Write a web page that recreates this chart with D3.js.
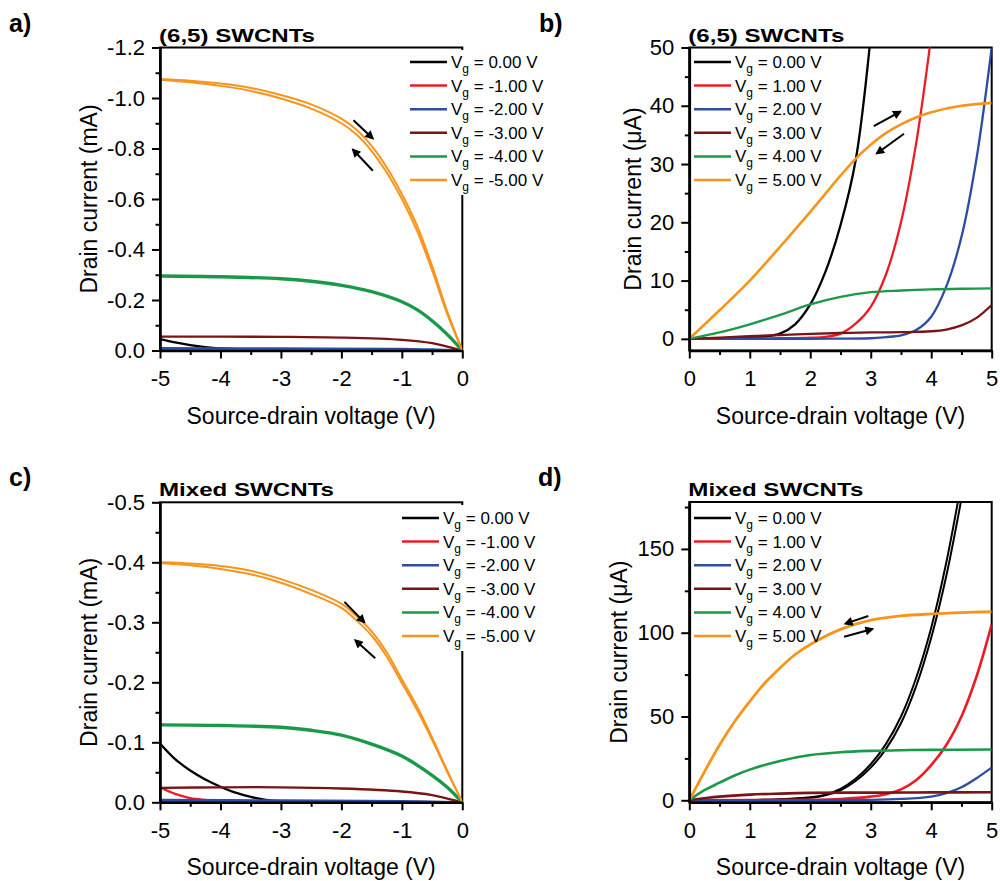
<!DOCTYPE html>
<html>
<head>
<meta charset="utf-8">
<script src="https://cdn.jsdelivr.net/npm/d3@7"></script>
<style>
  body { margin: 0; background: #fff; }
  text { font-family: Arial, "Liberation Sans", sans-serif; }
</style>
</head>
<body>
<svg id="chart" width="1000" height="881"></svg>
<script>
// ---- data ----
const colors = ["#000000", "#ec1c24", "#2e4da0", "#7b1416", "#1a9a48", "#f7941d"];
const gatesNeg = ["0.00", "-1.00", "-2.00", "-3.00", "-4.00", "-5.00"];
const gatesPos = ["0.00", "1.00", "2.00", "3.00", "4.00", "5.00"];

// a) (6,5) SWCNTs, negative bias, mA
const aBlack = [[-5,-0.045],[-4.75,-0.032],[-4.5,-0.021],[-4.25,-0.013],[-4,-0.008],[-3.5,-0.004],[-3,-0.002],[-2,-0.001],[0,0]];
const aRed = [[-5,-0.004],[-3,-0.003],[-1,-0.002],[0,0]];
const aBlue = [[-5,-0.009],[-3,-0.008],[-1,-0.006],[-0.5,-0.004],[0,0]];
const aBrown = [[-5,-0.055],[-4,-0.055],[-3,-0.054],[-2,-0.051],[-1,-0.042],[-0.5,-0.029],[-0.2,-0.012],[0,0]];
const aGreen = [[-5,-0.295],[-4,-0.292],[-3,-0.284],[-2.5,-0.274],[-2,-0.258],[-1.5,-0.233],[-1,-0.193],[-0.75,-0.162],[-0.5,-0.118],[-0.25,-0.064],[0,0]];
const aOrangeUp = [[-5,-1.075],[-4.5,-1.068],[-4,-1.057],[-3.5,-1.04],[-3,-1.012],[-2.5,-0.975],[-2,-0.918],[-1.75,-0.874],[-1.5,-0.81],[-1.25,-0.725],[-1,-0.62],[-0.75,-0.495],[-0.5,-0.335],[-0.25,-0.155],[0,0]];
const aOrangeDown = [[-5,-1.072],[-4.5,-1.062],[-4,-1.048],[-3.5,-1.028],[-3,-0.998],[-2.5,-0.958],[-2,-0.9],[-1.75,-0.855],[-1.5,-0.79],[-1.25,-0.705],[-1,-0.6],[-0.75,-0.475],[-0.5,-0.318],[-0.25,-0.145],[0,0]];
const aArrows = [[[-1.8,-0.912],[-1.48,-0.84]], [[-1.48,-0.712],[-1.81,-0.796]]];

// b) (6,5) SWCNTs, positive bias, uA
const bBlack = [[0,0],[0.5,0.05],[1,0.2],[1.25,0.4],[1.5,0.9],[1.75,2.5],[2,5.9],[2.25,11.5],[2.5,19.5],[2.75,30.6],[3,52]];
const bRed = [[0,0],[1,0.05],[1.5,0.1],[2,0.2],[2.25,0.35],[2.5,0.9],[2.75,2.6],[3,5.5],[3.25,11],[3.5,20],[3.75,33.5],[4,52]];
const bBlue = [[0,0],[2,0.02],[3,0.1],[3.25,0.3],[3.5,0.6],[3.75,1.5],[4,3.8],[4.25,9],[4.5,17.5],[4.75,31],[5,50]];
const bBrown = [[0,0],[0.5,0.2],[1,0.45],[1.5,0.65],[2,0.85],[2.5,1.0],[3,1.1],[3.5,1.15],[4,1.3],[4.25,1.6],[4.5,2.3],[4.75,3.6],[5,5.8]];
const bGreen = [[0,0],[0.5,1.1],[1,2.5],[1.5,4.1],[2,5.9],[2.5,7.2],[3,8.0],[3.5,8.3],[4,8.5],[4.5,8.6],[5,8.65]];
const bOrange = [[0,0],[0.5,4.9],[1,10],[1.5,15.8],[2,21.8],[2.5,28],[2.75,30.9],[3,33.3],[3.25,35.3],[3.5,36.8],[3.75,38.0],[4,38.9],[4.5,40.0],[5,40.5]];
const bArrows = [[[3.05,36.5],[3.49,39.0]], [[3.55,35.2],[3.1,31.8]]];

// c) Mixed SWCNTs, negative bias, mA
const cBlack = [[-5,-0.098],[-4.75,-0.072],[-4.5,-0.053],[-4.25,-0.038],[-4,-0.026],[-3.75,-0.016],[-3.5,-0.009],[-3.25,-0.004],[-3,-0.002],[-2,-0.0005],[0,0]];
const cRed = [[-5,-0.025],[-4.75,-0.014],[-4.5,-0.007],[-4.25,-0.004],[-4,-0.002],[-3,-0.001],[0,0]];
const cBlue = [[-5,-0.004],[-3,-0.003],[-1,-0.002],[0,0]];
const cBrown = [[-5,-0.024],[-4,-0.025],[-3,-0.025],[-2,-0.023],[-1,-0.018],[-0.5,-0.012],[-0.2,-0.005],[0,0]];
const cGreen = [[-5,-0.129],[-4,-0.128],[-3,-0.125],[-2.5,-0.12],[-2,-0.112],[-1.5,-0.097],[-1,-0.077],[-0.5,-0.045],[-0.25,-0.025],[0,0]];
const cOrangeUp = [[-5,-0.400],[-4.5,-0.398],[-4,-0.394],[-3.5,-0.386],[-3,-0.372],[-2.5,-0.354],[-2,-0.331],[-1.75,-0.31],[-1.5,-0.285],[-1.25,-0.25],[-1,-0.205],[-0.75,-0.16],[-0.5,-0.108],[-0.25,-0.053],[0,0]];
const cOrangeDown = [[-5,-0.399],[-4.5,-0.395],[-4,-0.389],[-3.5,-0.38],[-3,-0.366],[-2.5,-0.347],[-2,-0.324],[-1.75,-0.303],[-1.5,-0.278],[-1.25,-0.243],[-1,-0.199],[-0.75,-0.154],[-0.5,-0.104],[-0.25,-0.051],[0,0]];
const cArrows = [[[-1.95,-0.334],[-1.62,-0.300]], [[-1.44,-0.240],[-1.77,-0.270]]];

// d) Mixed SWCNTs, positive bias, uA
const dBlackUp = [[0,0],[1,0.2],[1.5,0.6],[2,1.8],[2.25,3.4],[2.5,6.8],[2.75,12.8],[3,21.5],[3.25,33.5],[3.5,50],[3.75,73],[4,103],[4.25,142],[4.5,190]];
const dBlackDown = [[0,0],[1,0.2],[1.5,0.5],[2,1.5],[2.25,3],[2.5,6],[2.75,11.5],[3,19.5],[3.25,30.5],[3.5,46],[3.75,68],[4,97],[4.25,134],[4.5,180]];
const dRed = [[0,0],[2,0.3],[2.5,0.8],[3,2.2],[3.25,3.6],[3.5,6.5],[3.75,12],[4,21],[4.25,33],[4.5,50],[4.75,74],[5,105]];
const dBlue = [[0,0],[3,0.3],[3.5,0.8],[4,2.2],[4.25,4.3],[4.5,7.8],[4.75,13.2],[5,19.5]];
const dBrown = [[0,0],[0.25,1.2],[0.5,2.2],[1,3.4],[1.5,4.0],[2,4.4],[3,4.6],[4,4.7],[5,4.8]];
const dGreen = [[0,0],[0.25,6],[0.5,10.5],[0.75,14.8],[1,18.3],[1.5,23.5],[2,27],[2.5,28.7],[3,29.5],[3.5,29.9],[4,30.1],[5,30.3]];
const dOrange = [[0,0],[0.25,17],[0.5,33],[0.75,47],[1,59],[1.25,70],[1.5,79],[1.75,87],[2,93],[2.5,102],[3,107.5],[3.5,110],[4,111.2],[4.5,112],[5,112.5]];
const dArrows = [[[2.96,110],[2.58,105.4]], [[2.56,97.6],[3.03,102.2]]];

// ---- drawing ----
const svg = d3.select("#chart");
const font = "Arial, 'Liberation Sans', sans-serif";

svg.append("defs").append("marker")
  .attr("id", "head")
  .attr("viewBox", "0 0 10 10")
  .attr("refX", 8).attr("refY", 5)
  .attr("markerWidth", 11).attr("markerHeight", 9)
  .attr("markerUnits", "userSpaceOnUse")
  .attr("orient", "auto")
  .append("path").attr("d", "M0,0L10,5L0,10Z").attr("fill", "#000");

function panel(cfg) {
  const x = d3.scaleLinear(cfg.xDomain, [cfg.left, cfg.right]);
  const y = d3.scaleLinear(cfg.yDomain, [cfg.bottom, cfg.top]);
  const g = svg.append("g");

  g.append("clipPath").attr("id", "clip-" + cfg.id)
    .append("rect")
    .attr("x", cfg.left).attr("y", cfg.top)
    .attr("width", cfg.right - cfg.left).attr("height", cfg.bottom - cfg.top);

  // frame
  g.append("rect")
    .attr("x", cfg.left).attr("y", cfg.top)
    .attr("width", cfg.right - cfg.left).attr("height", cfg.bottom - cfg.top)
    .attr("fill", "none").attr("stroke", "#000").attr("stroke-width", 2);

  const line = d3.line().x(d => x(d[0])).y(d => y(d[1])).curve(d3.curveCatmullRom.alpha(0.5));
  const plot = g.append("g").attr("clip-path", `url(#clip-${cfg.id})`);
  cfg.curves.forEach(c => {
    plot.append("path")
      .attr("d", line(c.data))
      .attr("fill", "none")
      .attr("stroke", c.color)
      .attr("stroke-width", c.width || 2.3)
      .attr("stroke-linejoin", "round");
  });

  cfg.arrows.forEach(a => {
    g.append("line")
      .attr("x1", x(a[0][0])).attr("y1", y(a[0][1]))
      .attr("x2", x(a[1][0])).attr("y2", y(a[1][1]))
      .attr("stroke", "#000").attr("stroke-width", 2)
      .attr("marker-end", "url(#head)");
  });

  // legend
  const lg = g.append("g");
  if (cfg.legendBg) {
    lg.append("rect")
      .attr("x", cfg.legendBg[0]).attr("y", cfg.legendBg[1])
      .attr("width", cfg.legendBg[2]).attr("height", cfg.legendBg[3])
      .attr("fill", "#fff");
  }
  cfg.labels.forEach((lab, i) => {
    const yy = cfg.legY + i * 23.6;
    lg.append("line")
      .attr("x1", cfg.legX).attr("x2", cfg.legX + 37)
      .attr("y1", yy).attr("y2", yy)
      .attr("stroke", colors[i]).attr("stroke-width", 2.5);
    const t = lg.append("text")
      .attr("x", cfg.legX + 41).attr("y", yy + 6)
      .attr("font-size", 17).attr("fill", "#000");
    t.append("tspan").text("V");
    t.append("tspan").attr("font-size", 12).attr("dy", 5).text("g");
    t.append("tspan").attr("dy", -5).text(` = ${lab} V`);
  });

  // axes
  const yAxis = g.append("g").attr("transform", `translate(${cfg.left},0)`)
    .call(d3.axisLeft(y).tickValues(cfg.yTicks).tickSize(8).tickSizeOuter(0)
      .tickPadding(7).tickFormat(cfg.yFmt));
  g.append("g").attr("transform", `translate(${cfg.left},0)`)
    .call(d3.axisLeft(y).tickValues(cfg.yMinor).tickSize(4.5).tickFormat(""))
    .call(s => s.select(".domain").remove());
  const xAxis = g.append("g").attr("transform", `translate(0,${cfg.bottom})`)
    .call(d3.axisBottom(x).tickValues(cfg.xTicks).tickSize(8).tickSizeOuter(0)
      .tickPadding(12).tickFormat(d => String(d)));
  g.append("g").attr("transform", `translate(0,${cfg.bottom})`)
    .call(d3.axisBottom(x).tickValues(cfg.xMinor).tickSize(4.5).tickFormat(""))
    .call(s => s.select(".domain").remove());

  g.selectAll(".tick line").attr("stroke-width", 2);
  [xAxis, yAxis].forEach(a => {
    a.select(".domain").attr("stroke-width", 2.6);
    a.selectAll("text").attr("font-size", 22).attr("font-family", font).attr("fill", "#000");
  });

  // titles
  g.append("text")
    .attr("x", (cfg.left + cfg.right) / 2).attr("y", cfg.bottom + 73)
    .attr("text-anchor", "middle").attr("font-size", 23)
    .text("Source-drain voltage (V)");
  g.append("text")
    .attr("transform", `translate(${cfg.yTitleX},${(cfg.top + cfg.bottom) / 2}) rotate(-90)`)
    .attr("text-anchor", "middle").attr("font-size", 23)
    .text(cfg.yTitle);
  g.append("text")
    .attr("x", cfg.left - 1).attr("y", cfg.top - 6)
    .attr("font-size", 19).attr("font-weight", "bold")
    .attr("textLength", cfg.titleLen).attr("lengthAdjust", "spacingAndGlyphs")
    .text(cfg.title);
  g.append("text")
    .attr("x", cfg.tagX).attr("y", cfg.top - 16)
    .attr("font-size", 25).attr("font-weight", "bold")
    .text(cfg.tag);
}

const negY = d => d.toFixed(1);

panel({
  id: "a", tag: "a)", tagX: 9, title: "(6,5) SWCNTs", titleLen: 156,
  left: 160, right: 462.3, top: 47.5, bottom: 350.5,
  xDomain: [-5, 0], yDomain: [0, -1.2],
  xTicks: [-5, -4, -3, -2, -1, 0], xMinor: [-4.5, -3.5, -2.5, -1.5, -0.5],
  yTicks: [0, -0.2, -0.4, -0.6, -0.8, -1.0, -1.2], yMinor: [-0.1, -0.3, -0.5, -0.7, -0.9, -1.1],
  yFmt: negY, yTitle: "Drain current (mA)", yTitleX: 97,
  curves: [
    { data: aBlack, color: colors[0] }, { data: aRed, color: colors[1] },
    { data: aBlue, color: colors[2] }, { data: aBrown, color: colors[3] },
    { data: aGreen, color: colors[4], width: 3.4 },
    { data: aOrangeUp, color: colors[5], width: 2 }, { data: aOrangeDown, color: colors[5], width: 2 }
  ],
  arrows: aArrows,
  labels: gatesNeg, legX: 410, legY: 62, legendBg: [403, 50, 65, 145]
});

panel({
  id: "b", tag: "b)", tagX: 539, title: "(6,5) SWCNTs", titleLen: 156,
  left: 689.3, right: 991.7, top: 47.5, bottom: 350.5,
  xDomain: [0, 5], yDomain: [-2, 50],
  xTicks: [0, 1, 2, 3, 4, 5], xMinor: [0.5, 1.5, 2.5, 3.5, 4.5],
  yTicks: [0, 10, 20, 30, 40, 50], yMinor: [5, 15, 25, 35, 45],
  yFmt: d => String(d), yTitle: "Drain current (\u03bcA)", yTitleX: 641,
  curves: [
    { data: bBlack, color: colors[0] }, { data: bRed, color: colors[1] },
    { data: bBlue, color: colors[2] }, { data: bBrown, color: colors[3] },
    { data: bGreen, color: colors[4] }, { data: bOrange, color: colors[5], width: 2.6 }
  ],
  arrows: bArrows,
  labels: gatesPos, legX: 694, legY: 62, legendBg: null
});

panel({
  id: "c", tag: "c)", tagX: 9, title: "Mixed SWCNTs", titleLen: 175,
  left: 160, right: 462.3, top: 502.3, bottom: 802.3,
  xDomain: [-5, 0], yDomain: [0, -0.5],
  xTicks: [-5, -4, -3, -2, -1, 0], xMinor: [-4.5, -3.5, -2.5, -1.5, -0.5],
  yTicks: [0, -0.1, -0.2, -0.3, -0.4, -0.5], yMinor: [-0.05, -0.15, -0.25, -0.35, -0.45],
  yFmt: negY, yTitle: "Drain current (mA)", yTitleX: 97,
  curves: [
    { data: cBlack, color: colors[0] }, { data: cRed, color: colors[1] },
    { data: cBlue, color: colors[2] }, { data: cBrown, color: colors[3] },
    { data: cGreen, color: colors[4], width: 3.4 },
    { data: cOrangeUp, color: colors[5], width: 2 }, { data: cOrangeDown, color: colors[5], width: 2 }
  ],
  arrows: cArrows,
  labels: gatesNeg, legX: 402, legY: 518, legendBg: [396, 505, 72, 146]
});

panel({
  id: "d", tag: "d)", tagX: 538, title: "Mixed SWCNTs", titleLen: 175,
  left: 689.3, right: 991.7, top: 502, bottom: 802.3,
  xDomain: [0, 5], yDomain: [-1.2, 178],
  xTicks: [0, 1, 2, 3, 4, 5], xMinor: [0.5, 1.5, 2.5, 3.5, 4.5],
  yTicks: [0, 50, 100, 150], yMinor: [25, 75, 125, 175],
  yFmt: d => String(d), yTitle: "Drain current (\u03bcA)", yTitleX: 627,
  curves: [
    { data: dBlackUp, color: colors[0], width: 2 }, { data: dBlackDown, color: colors[0], width: 2 },
    { data: dRed, color: colors[1], width: 2.6 },
    { data: dBlue, color: colors[2] }, { data: dBrown, color: colors[3], width: 2.6 },
    { data: dGreen, color: colors[4], width: 2.6 }, { data: dOrange, color: colors[5], width: 2.8 }
  ],
  arrows: dArrows,
  labels: gatesPos, legX: 694, legY: 518, legendBg: null
});
</script>
</body>
</html>
